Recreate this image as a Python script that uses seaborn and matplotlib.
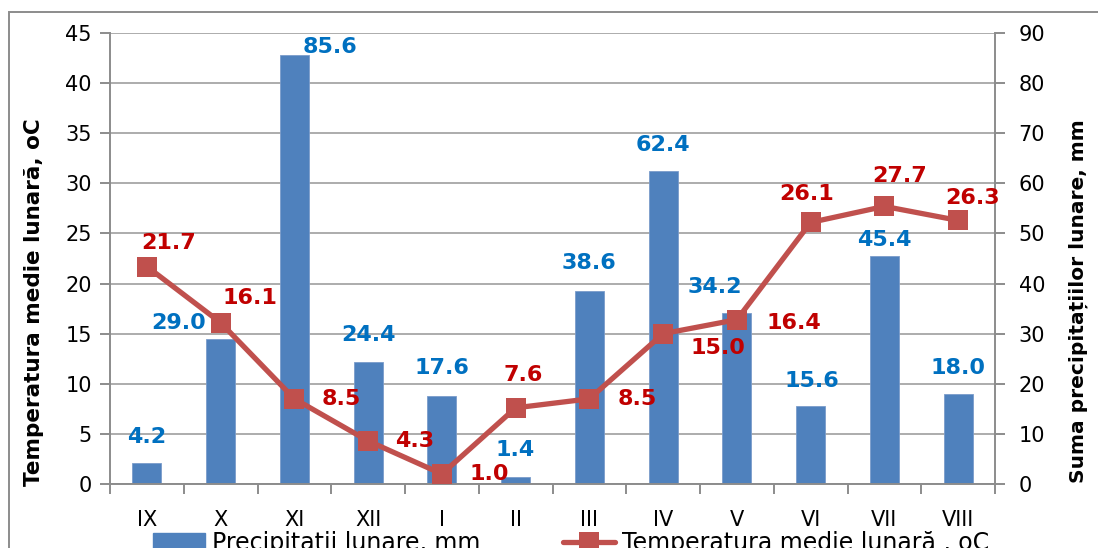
import numpy as np
import pandas as pd
import matplotlib
matplotlib.use("Agg")
import matplotlib.pyplot as plt
from matplotlib.patches import Patch, Rectangle
from matplotlib.lines import Line2D
import seaborn as sns

# Monthly data (agricultural year, September to August)
months = ["IX", "X", "XI", "XII", "I", "II", "III", "IV", "V", "VI", "VII", "VIII"]
precip_mm = [4.2, 29.0, 85.6, 24.4, 17.6, 1.4, 38.6, 62.4, 34.2, 15.6, 45.4, 18.0]
temp_c = [21.7, 16.1, 8.5, 4.3, 1.0, 7.6, 8.5, 15.0, 16.4, 26.1, 27.7, 26.3]

# Label offsets (pixels) for the value labels
precip_offsets = [(0, 26), (-42, 16), (36, 8), (0, 27), (0, 28), (0, 27),
                  (0, 28), (0, 26), (-22, 26), (1, 25), (0, 16), (0, 26)]
temp_offsets = [(22, 24), (29, 25), (47, 0), (47, 0), (47, 0), (8, 33),
                (48, 0), (55, -14), (57, -3), (-4, 28), (15, 30), (14, 22)]

BAR = "#4F81BD"
LINE = "#C0504D"
BLUE_TXT = "#0070C0"
RED_TXT = "#C00000"
GRAY = "#8C8C8C"
GRID = "#A6A6A6"

sns.set_theme(style="white")
plt.rcParams["font.family"] = ["DejaVu Sans"]
plt.rcParams.update({"text.color": "black", "axes.labelcolor": "black",
                     "xtick.color": "black", "ytick.color": "black"})

df = pd.DataFrame({"month": months, "precip": precip_mm, "temp": temp_c,
                   "pos": np.arange(len(months))})

fig = plt.figure(figsize=(10.98, 5.48), dpi=100)
ax = fig.add_axes([110 / 1098, 1 - 484 / 548, 885 / 1098, 451 / 548])

# Precipitation bars (right axis scale)
sns.barplot(data=df, x="month", y="precip", order=months, ax=ax, color=BAR,
            width=0.39, saturation=1, edgecolor="#7A9CCB", linewidth=0.6)
ax.set_xlim(-0.5, len(months) - 0.5)
ax.set_ylim(0, 90)
ax.set_yticks(np.arange(0, 91, 10))
ax.set_xlabel("")
ax.set_ylabel("")

ax2 = ax.twinx()
# Temperature line (left axis scale)
sns.lineplot(data=df, x="pos", y="temp", ax=ax2, color=LINE, linewidth=3.8,
             marker="s", markersize=14.5, markeredgecolor=LINE,
             markerfacecolor=LINE, markeredgewidth=0, legend=False)
ax2.set_ylim(0, 45)
ax2.set_yticks(np.arange(0, 46, 5))
ax2.set_xlim(-0.5, len(months) - 0.5)
ax2.set_xlabel("")
ax2.set_ylabel("")

# Axis sides: bars' scale on the right, temperature on the left
ax.yaxis.tick_right()
ax2.yaxis.tick_left()

# Gridlines behind bars
ax.set_axisbelow(True)
ax.yaxis.grid(True, color=GRID, linewidth=1.3)
ax.xaxis.grid(False)

# Category ticks at boundaries, labels at centres
ax.set_xticks(np.arange(-0.5, len(months), 1))
ax.set_xticklabels([])
ax.set_xticks(np.arange(len(months)), minor=True)
ax.set_xticklabels(months, minor=True)
ax.tick_params(axis="x", which="major", length=7, width=1.4, color=GRAY,
               bottom=True)
ax.tick_params(axis="x", which="minor", length=0, pad=19, labelsize=15,
               labelcolor="black", bottom=True)
ax.tick_params(axis="y", which="major", right=True, left=False, length=7,
               width=1.4, color=GRAY, pad=10, labelsize=15, labelcolor="black")
ax2.tick_params(axis="y", which="major", left=True, right=False, length=7,
                width=1.4, color=GRAY, pad=6, labelsize=15, labelcolor="black")

for name, sp in ax.spines.items():
    sp.set_visible(name in ("left", "right", "bottom"))
    sp.set_color(GRAY)
    sp.set_linewidth(1.4)
for sp in ax2.spines.values():
    sp.set_visible(False)

# Value labels
for i, (v, off) in enumerate(zip(precip_mm, precip_offsets)):
    ax.annotate(f"{v:.1f}", xy=(i, v), xytext=off, textcoords="offset pixels",
                ha="center", va="center", fontsize=16, fontweight="bold",
                color=BLUE_TXT)
for i, (v, off) in enumerate(zip(temp_c, temp_offsets)):
    ax2.annotate(f"{v:.1f}", xy=(i, v), xytext=off, textcoords="offset pixels",
                 ha="center", va="center", fontsize=16, fontweight="bold",
                 color=RED_TXT)

# Axis titles
fig.text(34 / 1098, 1 - 302 / 548, "Temperatura medie lunară, oC",
         rotation=90, ha="center", va="center", fontsize=15.5,
         fontweight="bold")
fig.text(1078 / 1098, 1 - 301 / 548, "Suma precipitațiilor lunare, mm",
         rotation=90, ha="center", va="center", fontsize=14.5,
         fontweight="bold")

# Legend below the plot
handles = [Patch(facecolor=BAR, edgecolor=BAR),
           Line2D([], [], color=LINE, linewidth=3.8, marker="s",
                  markersize=14.5, markeredgewidth=0)]
fig.legend(handles, ["Precipitatii lunare, mm", "Temperatura medie lunară , oC"],
           loc="upper left", bbox_to_anchor=(153 / 1098, 1 - 531 / 548),
           ncol=2, frameon=False, fontsize=17, handlelength=2.2,
           handletextpad=0.3, columnspacing=3.5, borderpad=0,
           borderaxespad=0)

# Chart area border
fig.patches.append(Rectangle((9 / 1098, -0.1), 1.2, 1 - 12 / 548 + 0.1,
                             transform=fig.transFigure, fill=False,
                             edgecolor=GRAY, linewidth=1.4))

fig.savefig("out.png", dpi=100)
